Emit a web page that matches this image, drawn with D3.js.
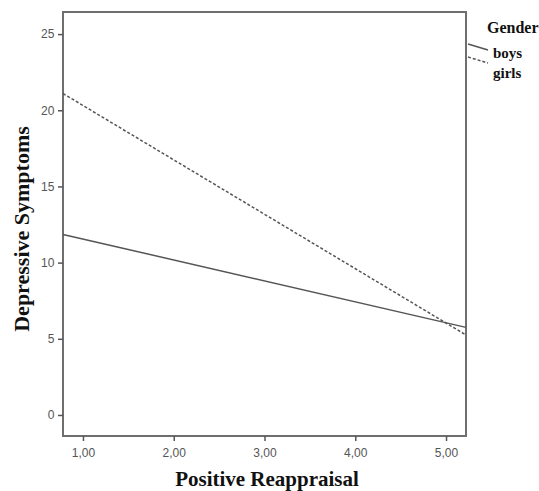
<!DOCTYPE html>
<html>
<head>
<meta charset="utf-8">
<script src="https://cdn.jsdelivr.net/npm/d3@7"></script>
<style>
  body { margin: 0; background: #fff; }
  .tick text { font-family: Arial, "Liberation Sans", sans-serif; font-size: 12px; fill: #555; }
</style>
</head>
<body>
<svg></svg>
<script>
const width = 539;
const height = 491;

// data
const xDomain = [0.78, 5.22];
const yDomain = [-1.38, 26.45];
const xTicks = [1, 2, 3, 4, 5];
const yTicks = [0, 5, 10, 15, 20, 25];
const genders = ['boys', 'girls'];
const boysLine = [[0.78, 11.85], [5.22, 5.75]];
const girlsLine = [[0.78, 21.1], [5.22, 5.25]];

const margin = {left: 63, right: 73, top: 12, bottom: 55};

const svg = d3.select('svg')
    .attr('width', width).attr('height', height);

const x = d3.scaleLinear().domain(xDomain).range([margin.left, width - margin.right]);
const y = d3.scaleLinear().domain(yDomain).range([height - margin.bottom, margin.top]);

const fmt = d => d3.format('.2f')(d).replace('.', ',');

// frame
svg.append('rect')
    .attr('x', margin.left).attr('y', margin.top)
    .attr('width', width - margin.left - margin.right)
    .attr('height', height - margin.top - margin.bottom)
    .style('fill', 'none')
    .style('stroke', '#6e6e6e')
    .style('stroke-width', 2);

const xAxis = svg.append('g')
    .attr('transform', `translate(0,${height - margin.bottom})`)
    .call(d3.axisBottom(x).tickValues(xTicks).tickFormat(fmt).tickSize(5).tickSizeOuter(0));
const yAxis = svg.append('g')
    .attr('transform', `translate(${margin.left},0)`)
    .call(d3.axisLeft(y).tickValues(yTicks).tickSize(5).tickSizeOuter(0));

[xAxis, yAxis].forEach(a => {
    a.select('.domain').remove();
    a.selectAll('line').style('stroke', '#555').style('stroke-width', 1.5);
});
xAxis.selectAll('text').attr('dy', '1.1em');
yAxis.selectAll('text').attr('dx', '-0.05em');

const line = d3.line().x(d => x(d[0])).y(d => y(d[1]));

svg.append('path')
    .datum(boysLine)
    .attr('d', line)
    .style('fill', 'none')
    .style('stroke', '#555')
    .style('stroke-width', 1.5);

svg.append('path')
    .datum(girlsLine)
    .attr('d', line)
    .style('fill', 'none')
    .style('stroke', '#555')
    .style('stroke-width', 1.5)
    .style('stroke-dasharray', '3,2');

// axis titles
svg.append('text')
    .attr('x', 267).attr('y', 486)
    .attr('text-anchor', 'middle')
    .style('font-family', '"Liberation Serif", "Times New Roman", serif')
    .style('font-weight', 'bold')
    .style('font-size', '21px')
    .style('fill', '#111')
    .text('Positive Reappraisal');

svg.append('text')
    .attr('transform', 'translate(29,229) rotate(-90)')
    .attr('text-anchor', 'middle')
    .style('font-family', '"Liberation Serif", "Times New Roman", serif')
    .style('font-weight', 'bold')
    .style('font-size', '22px')
    .style('fill', '#111')
    .text('Depressive Symptoms');

// legend
const legend = svg.append('g');
legend.append('text')
    .attr('x', 487).attr('y', 33)
    .style('font-family', '"Liberation Serif", "Times New Roman", serif')
    .style('font-weight', 'bold')
    .style('font-size', '16px')
    .style('fill', '#111')
    .text('Gender');

genders.forEach((g, i) => {
    const y0 = 44 + i * 13;
    legend.append('line')
        .attr('x1', 468).attr('y1', y0)
        .attr('x2', 488).attr('y2', y0 + 6)
        .style('stroke', '#555')
        .style('stroke-width', 1.5)
        .style('stroke-dasharray', i === 1 ? '3,2' : null);
    legend.append('text')
        .attr('x', 493).attr('y', 58 + i * 20)
        .style('font-family', '"Liberation Serif", "Times New Roman", serif')
        .style('font-weight', 'bold')
        .style('font-size', '15px')
        .style('fill', '#111')
        .text(g);
});
</script>
</body>
</html>
